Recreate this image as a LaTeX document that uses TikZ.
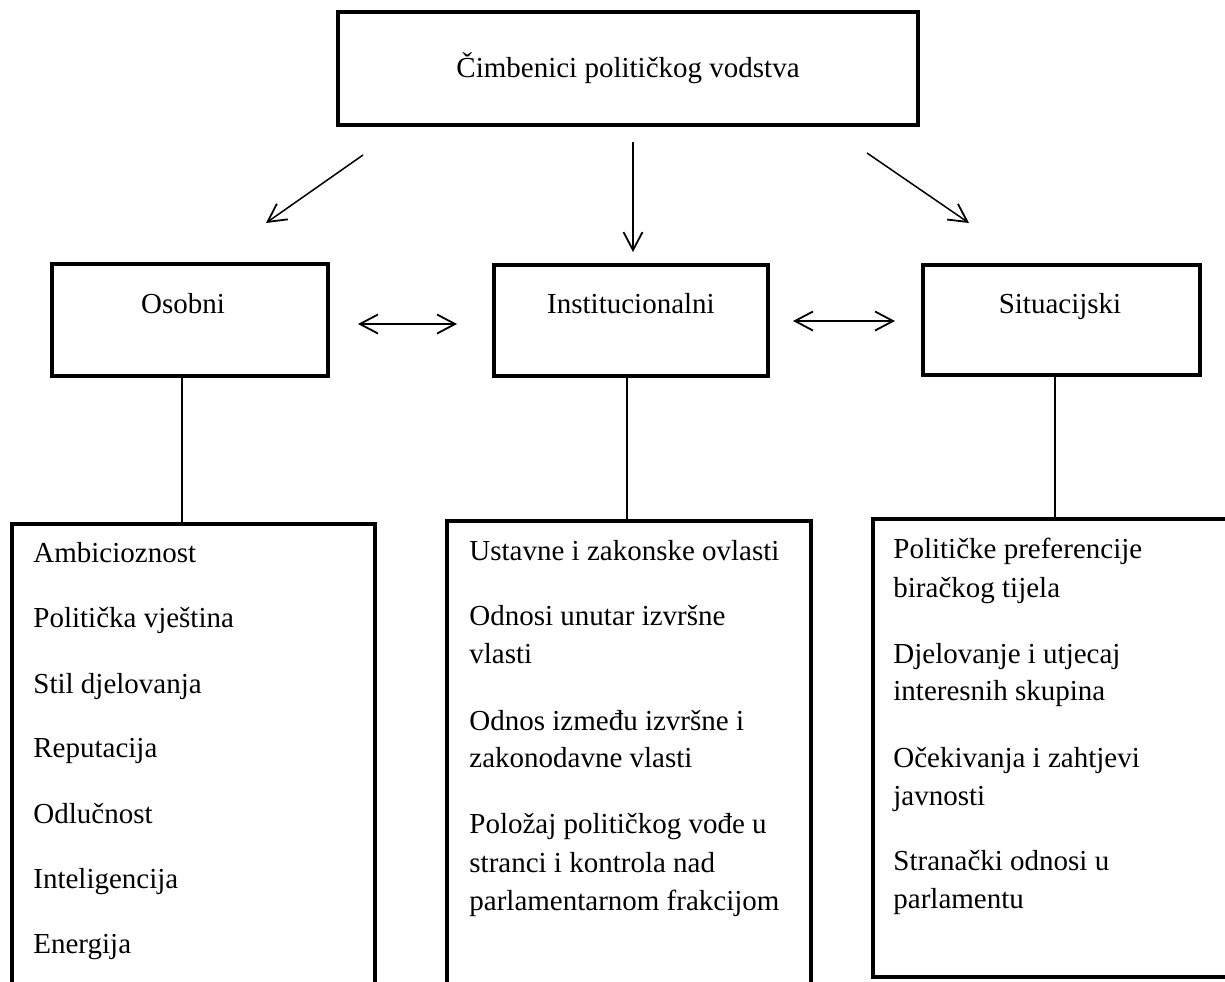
\documentclass[tikz,border=0pt]{standalone}
\usepackage{fontspec}
\setmainfont{Liberation Serif}
\usetikzlibrary{arrows.meta}
\newcommand{\txtfont}{\fontsize{14.5}{19}\selectfont}
\tikzset{
  frame/.style={draw, line width=2pt, line join=miter, inner sep=0pt},
  conn/.style={line width=0.75pt},
  arr/.style={line width=0.75pt, -{Straight Barb[length=9pt,width=9.5pt,line width=0.9pt]}},
  darr/.style={line width=0.75pt, {Straight Barb[length=9pt,width=9.5pt,line width=0.9pt]}-{Straight Barb[length=9pt,width=9.5pt,line width=0.9pt]}},
  lbl/.style={font=\txtfont, anchor=base, inner sep=0pt},
  item/.style={font=\txtfont, anchor=base west, inner sep=0pt}
}
\begin{document}
\begin{tikzpicture}[x=0.5pt,y=-0.5pt]
\useasboundingbox (0,0) rectangle (1225,981);
\clip (0,0) rectangle (1225,981);
\fill[white] (0,0) rectangle (1225,981);

% top box
\node[frame, minimum width=290pt, minimum height=56.5pt] (top) at (628,68.5) {};
\node[lbl] (toptxt) at (628,77) {Čimbenici političkog vodstva};

% second row boxes
\node[frame, minimum width=138pt, minimum height=56pt] (osobni) at (190,320) {};
\node[frame, minimum width=137pt, minimum height=55.5pt] (inst) at (631,320.5) {};
\node[frame, minimum width=138.5pt, minimum height=55pt] (situ) at (1061.5,320) {};
\node[lbl] (osobnitxt) at (183,313) {Osobni};
\node[lbl] (insttxt) at (631,313) {Institucionalni};
\node[lbl] (situtxt) at (1060,313) {Situacijski};

% bottom boxes
\node[frame, minimum width=181.5pt, minimum height=288pt] (olist) at (193.5,812) {};
\node[frame, minimum width=182pt, minimum height=289.5pt] (ilist) at (629,810.5) {};
\node[frame, minimum width=213.5pt, minimum height=229pt] (slist) at (1086.5,748) {};

% arrow coordinates
\coordinate (a1s) at (363,155);
\coordinate (a1e) at (266,223);
\coordinate (a2s) at (633,142);
\coordinate (a2e) at (633,252);
\coordinate (a3s) at (867,153);
\coordinate (a3e) at (969,223);
\coordinate (d1a) at (358,324);
\coordinate (d1b) at (457,324);
\coordinate (d2a) at (793,321);
\coordinate (d2b) at (895,321);
\draw[arr] (a1s) -- (a1e);
\draw[arr] (a2s) -- (a2e);
\draw[arr] (a3s) -- (a3e);
\draw[darr] (d1a) -- (d1b);
\draw[darr] (d2a) -- (d2b);

% vertical connectors
\coordinate (cx1) at (182,0);
\coordinate (cx2) at (627,0);
\coordinate (cx3) at (1055,0);
\draw[conn] (osobni.south -| cx1) -- (olist.north -| cx1);
\draw[conn] (inst.south -| cx2) -- (ilist.north -| cx2);
\draw[conn] (situ.south -| cx3) -- (slist.north -| cx3);

% left list
\node[item] (o1) at (33,562) {Ambicioznost};
\node[item] (o2) at (33,627) {Politička vještina};
\node[item] (o3) at (33,693) {Stil djelovanja};
\node[item] (o4) at (33,757) {Reputacija};
\node[item] (o5) at (33,823) {Odlučnost};
\node[item] (o6) at (33,888) {Inteligencija};
\node[item] (o7) at (33,953) {Energija};

% middle list
\node[item] (i1) at (469,560) {Ustavne i zakonske ovlasti};
\node[item] (i2) at (469,625) {Odnosi unutar izvršne};
\node[item] (i3) at (469,663) {vlasti};
\node[item] (i4) at (469,730) {Odnos između izvršne i};
\node[item] (i5) at (469,767) {zakonodavne vlasti};
\node[item] (i6) at (469,833) {Položaj političkog vođe u};
\node[item] (i7) at (469,872) {stranci i kontrola nad};
\node[item] (i8) at (469,910) {parlamentarnom frakcijom};

% right list
\node[item] (s1) at (893,558) {Političke preferencije};
\node[item] (s2) at (893,597) {biračkog tijela};
\node[item] (s3) at (893,663) {Djelovanje i utjecaj};
\node[item] (s4) at (893,700) {interesnih skupina};
\node[item] (s5) at (893,767) {Očekivanja i zahtjevi};
\node[item] (s6) at (893,805) {javnosti};
\node[item] (s7) at (893,870) {Stranački odnosi u};
\node[item] (s8) at (893,908) {parlamentu};
\end{tikzpicture}
\end{document}
